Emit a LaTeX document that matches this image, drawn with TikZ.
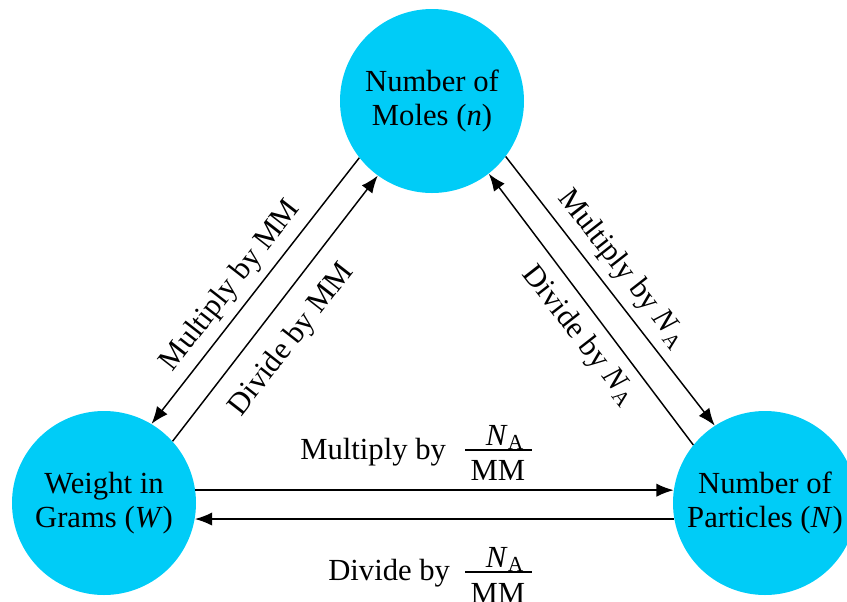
\documentclass[tikz,border=0pt]{standalone}
\usepackage{fontspec}
\setmainfont{Liberation Serif}
\usetikzlibrary{arrows.meta}
\definecolor{circ}{RGB}{0,204,247}
\begin{document}
\begin{tikzpicture}[x=0.75pt,y=-0.75pt,
  bubble/.style={circle,fill=circ,draw=none,minimum size=138pt,inner sep=0pt,align=center,font=\fontsize{23}{26}\selectfont},
  conn/.style={line width=1.1pt,-{Latex[length=13pt,width=10pt]}},
  lbl/.style={font=\fontsize{23}{26}\selectfont,inner sep=0pt},
  fracbar/.style={line width=1.3pt}]
\useasboundingbox (0,0) rectangle (847,601);
\clip (0,0) rectangle (847,601);
\node[bubble] (mol) at (432,101) {Number of\\Moles (\textit{n})};
\node[bubble] (wt) at (104,503) {Weight in\\Grams (\textit{W})};
\node[bubble] (par) at (765,503) {Number of\\Particles (\textit{N})};
\draw[conn] (mol.218) -- (wt.59);
\draw[conn] (wt.42) -- (mol.234);
\draw[conn] (mol.323) -- (par.123);
\draw[conn] (par.141) -- (mol.308);
\draw[conn] (wt.8) -- (par.172);
\draw[conn] (par.190) -- (wt.350);
\node[lbl,rotate=52] (l1) at (231,286) {Multiply by MM};
\node[lbl,rotate=52] (l2) at (292,340) {Divide by MM};
\node[lbl,rotate=-52] (l3) at (622,269) {Multiply by \textit{N}\textsubscript{A}};
\node[lbl,rotate=-52] (l4) at (579,336) {Divide by \textit{N}\textsubscript{A}};
% upper horizontal label
\node[lbl,anchor=base west] (l5) at (300,459) {Multiply by};
\node[lbl,anchor=base] (n5) at (505,445) {\textit{N}\textsubscript{A}};
\node[lbl,anchor=base] (d5) at (498,480) {MM};
\coordinate (b5a) at (465,450);
\coordinate (b5b) at (532,450);
\draw[fracbar] (b5a) -- (b5b);
% lower horizontal label
\node[lbl,anchor=base west] (l6) at (328,580) {Divide by};
\node[lbl,anchor=base] (n6) at (505,567) {\textit{N}\textsubscript{A}};
\node[lbl,anchor=base] (d6) at (498,603) {MM};
\coordinate (b6a) at (465,572);
\coordinate (b6b) at (532,572);
\draw[fracbar] (b6a) -- (b6b);
\end{tikzpicture}
\end{document}
